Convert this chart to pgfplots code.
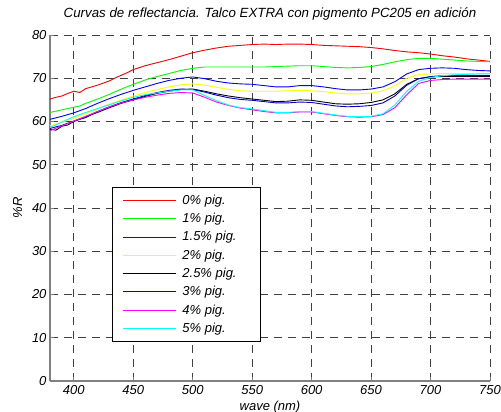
\documentclass[border=0pt]{standalone}
\usepackage{fontspec}
\setmainfont{Liberation Sans}
\usepackage{pgfplots}
\pgfplotsset{compat=1.18}

\definecolor{mgreen}{rgb}{0,1,0}
\definecolor{mblue}{rgb}{0,0,1}
\definecolor{mnavy}{rgb}{0,0,0.75}
\definecolor{myellow}{rgb}{1,1,0}
\definecolor{mmagenta}{rgb}{1,0,1}
\definecolor{mcyan}{rgb}{0,1,1}

\newcommand{\legitem}[1]{\makebox[67pt][l]{#1}}

\begin{document}
\begin{tikzpicture}
\path[use as bounding box] (-50pt,-31pt) rectangle (451pt,381pt);
\begin{axis}[
    width=440pt, height=346pt, scale only axis,
    xmin=380, xmax=750, ymin=0, ymax=80,
    xtick={400,450,...,750}, ytick={0,10,...,80},
    axis lines*=left,
    axis line style={draw=gray, line width=1.2pt},
    tick align=inside, major tick length=4pt,
    tick style={draw=gray, line width=0.8pt},
    grid=major,
    major grid style={draw=black!75, line width=0.8pt, dash pattern=on 8pt off 6pt},
    /pgf/number format/assume math mode=true,
    ticklabel style={font=\fontsize{13}{15}\selectfont\itshape},
    xticklabel style={yshift=-1pt},
    title={Curvas de reflectancia. Talco EXTRA con pigmento PC205 en adición},
    title style={at={(0.5,1)}, anchor=base, yshift=11.7pt,
        font=\fontsize{13.3}{15}\selectfont\itshape},
    xlabel={wave (nm)},
    xlabel style={at={(0.5,0)}, anchor=base, yshift=-29.5pt,
        font=\fontsize{13}{15}\selectfont\itshape},
    ylabel={\%R},
    ylabel style={at={(axis description cs:-0.0636,0.5)}, anchor=base,
        font=\fontsize{13}{15}\selectfont\itshape},
    every axis plot/.append style={line width=0.9pt},
    legend style={at={(0.142,0.5616)}, anchor=north west,
        draw=black, line width=0.9pt, fill=white,
        inner xsep=9.5pt, inner ysep=5.8pt,
        column sep=4pt, row sep=3.4pt,
        font=\fontsize{13}{15}\selectfont\itshape},
    legend cell align=left,
    legend image code/.code={\draw[#1, line width=1pt] (0pt,0pt) -- (53pt,0pt);},
]
% 0% pig.
\addplot[red] coordinates {
(380,65.2)(385,65.6)(390,65.9)(395,66.5)(400,67.0)(405,66.7)(410,67.6)(415,68.0)
(420,68.4)(425,68.9)(430,69.4)(435,70.1)(440,70.7)(445,71.3)(450,72.0)(460,72.9)
(470,73.6)(480,74.3)(490,75.1)(500,75.9)(510,76.5)(520,77.0)(530,77.4)(540,77.6)
(550,77.8)(560,77.9)(570,77.8)(580,77.9)(590,77.9)(600,77.8)(610,77.6)(620,77.5)
(630,77.4)(640,77.3)(650,77.1)(660,76.8)(670,76.4)(680,76.1)(690,75.9)(700,75.6)
(710,75.2)(720,74.9)(730,74.5)(740,74.2)(750,73.9)};
% 1% pig.
\addplot[mgreen] coordinates {
(380,62.1)(385,62.4)(390,62.7)(395,63.0)(400,63.3)(405,63.6)(410,64.2)(420,65.2)
(430,66.3)(440,67.5)(450,68.6)(460,69.6)(470,70.4)(480,71.1)(490,71.8)(500,72.3)
(510,72.6)(520,72.6)(530,72.6)(540,72.6)(550,72.6)(560,72.6)(570,72.7)(580,72.8)
(590,72.9)(600,72.9)(610,72.7)(620,72.5)(630,72.4)(640,72.5)(650,72.7)(660,73.2)
(670,73.8)(680,74.3)(690,74.6)(700,74.6)(710,74.4)(720,74.2)(730,74.0)(740,73.9)
(750,73.8)};
% 1.5% pig.
\addplot[mblue] coordinates {
(380,60.5)(390,61.2)(400,62.0)(410,63.0)(420,64.2)(430,65.3)(440,66.3)(450,67.2)
(460,68.0)(470,68.8)(480,69.5)(490,70.0)(500,70.3)(510,69.9)(520,69.3)(530,68.9)
(540,68.7)(550,68.6)(560,68.3)(570,68.0)(580,68.0)(590,68.3)(600,68.3)(610,68.0)
(620,67.6)(630,67.3)(640,67.3)(650,67.5)(660,68.0)(670,69.2)(680,71.0)(690,72.0)
(700,72.3)(710,72.4)(720,72.3)(730,72.0)(740,71.8)(750,71.7)};
% 2% pig.
\addplot[myellow] coordinates {
(380,59.0)(390,59.8)(400,60.7)(410,61.8)(420,62.9)(430,64.0)(440,65.0)(450,65.9)
(460,66.7)(470,67.4)(480,68.0)(490,68.5)(500,68.7)(510,68.4)(520,67.9)(530,67.4)
(540,67.1)(550,67.0)(560,67.0)(570,67.0)(580,67.1)(590,67.2)(600,67.1)(610,66.9)
(620,66.6)(630,66.4)(640,66.4)(650,66.6)(660,67.1)(670,68.3)(680,70.0)(690,70.9)
(700,71.0)(710,71.1)(720,71.1)(730,71.1)(740,71.1)(750,71.1)};
% 2.5% pig.
\addplot[black] coordinates {
(380,58.2)(385,58.0)(390,58.9)(395,59.2)(400,60.0)(405,60.5)(410,60.9)(415,61.6)
(420,62.1)(430,63.2)(440,64.2)(450,65.0)(460,65.8)(470,66.5)(480,67.0)(490,67.4)
(500,67.5)(510,67.0)(520,66.4)(530,65.9)(540,65.5)(550,65.2)(560,64.9)(570,64.6)
(580,64.7)(590,65.0)(600,64.9)(610,64.5)(620,64.1)(630,64.0)(640,64.1)(650,64.4)
(660,65.0)(670,66.4)(680,68.6)(690,69.9)(700,70.3)(710,70.4)(720,70.4)(730,70.4)
(740,70.4)(750,70.4)};
% 3% pig.
\addplot[mnavy] coordinates {
(380,58.4)(390,59.1)(400,60.1)(410,61.1)(420,62.3)(430,63.4)(440,64.4)(450,65.2)
(460,66.0)(470,66.7)(480,67.2)(490,67.5)(500,67.4)(510,66.8)(520,66.1)(530,65.5)
(540,65.1)(550,64.9)(560,64.6)(570,64.3)(580,64.3)(590,64.5)(600,64.4)(610,64.0)
(620,63.6)(630,63.4)(640,63.5)(650,63.7)(660,64.3)(670,65.9)(680,68.4)(690,69.9)
(700,70.4)(710,70.6)(720,70.6)(730,70.6)(740,70.6)(750,70.6)};
% 4% pig.
\addplot[mmagenta] coordinates {
(380,57.9)(390,59.0)(400,60.1)(410,61.2)(420,62.3)(430,63.4)(440,64.3)(450,65.0)
(460,65.6)(470,66.1)(480,66.5)(490,66.7)(500,66.6)(510,65.6)(520,64.5)(530,63.7)
(540,63.1)(550,62.7)(560,62.3)(570,62.0)(580,62.0)(590,62.2)(600,62.2)(610,61.8)
(620,61.4)(630,61.1)(640,61.0)(650,61.1)(660,61.6)(670,63.2)(680,66.2)(690,68.8)
(700,69.5)(710,69.7)(720,69.8)(730,69.8)(740,69.8)(750,69.8)};
% 5% pig.
\addplot[mcyan] coordinates {
(380,58.6)(390,59.9)(400,61.1)(410,62.1)(420,63.0)(430,63.9)(440,64.8)(450,65.6)
(460,66.2)(470,66.6)(480,67.0)(490,67.3)(500,67.3)(510,66.0)(520,64.8)(530,63.8)
(540,63.2)(550,62.9)(560,62.5)(570,62.1)(580,62.1)(590,62.3)(600,62.3)(610,61.9)
(620,61.5)(630,61.2)(640,61.1)(650,61.2)(660,61.8)(670,63.8)(680,67.0)(690,69.3)
(700,70.2)(710,70.6)(720,70.8)(730,70.9)(740,71.0)(750,71.0)};
\legend{\legitem{0\% pig.},\legitem{1\% pig.},\legitem{1.5\% pig.},\legitem{2\% pig.},
        \legitem{2.5\% pig.},\legitem{3\% pig.},\legitem{4\% pig.},\legitem{5\% pig.}}
\end{axis}
\end{tikzpicture}
\end{document}
